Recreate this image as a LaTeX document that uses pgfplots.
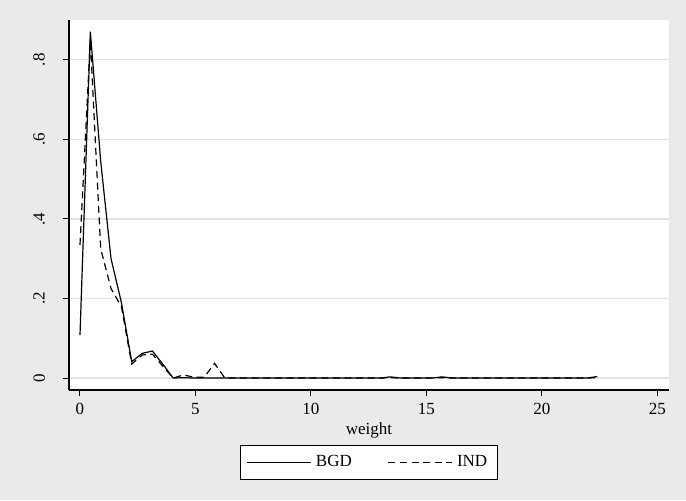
\documentclass[border=0pt]{standalone}
\usepackage{fontspec}
\setmainfont{Liberation Serif}
\usepackage{pgfplots}
\usepackage{pgfplotstable}
\pgfplotsset{compat=1.18}
\usetikzlibrary{backgrounds}
\definecolor{bgc}{RGB}{234,234,234}
\definecolor{gridc}{RGB}{226,226,226}

% frequency polygon, bins of width 0.448
\pgfplotstableread{
x      bgd    ind
0      0.108  0.335
0.448  0.871  0.850
0.896  0.545  0.325
1.344  0.300  0.225
1.792  0.190  0.180
2.240  0.041  0.035
2.688  0.062  0.058
3.136  0.068  0.060
3.584  0.035  0.030
4.032  0.000  0.000
4.480  0.001  0.008
4.928  0.000  0.002
5.376  0.000  0.002
5.824  0.000  0.037
6.272  0.000  0.000
6.720  0.000  0.000
7.168  0.000  0.000
7.616  0.000  0.000
8.064  0.000  0.000
8.512  0.000  0.000
8.960  0.000  0.000
9.408  0.000  0.000
9.856  0.000  0.000
10.304 0.000  0.000
10.752 0.000  0.000
11.200 0.000  0.000
11.648 0.000  0.000
12.096 0.000  0.000
12.544 0.000  0.000
12.992 0.000  0.000
13.440 0.003  0.001
13.888 0.000  0.000
14.336 0.000  0.000
14.784 0.000  0.000
15.232 0.000  0.000
15.680 0.003  0.001
16.128 0.000  0.000
16.576 0.000  0.000
17.024 0.000  0.000
17.472 0.000  0.000
17.920 0.000  0.000
18.368 0.000  0.000
18.816 0.000  0.000
19.264 0.000  0.000
19.712 0.000  0.000
20.160 0.000  0.000
20.608 0.000  0.000
21.056 0.000  0.000
21.504 0.000  0.000
21.952 0.000  0.000
22.400 0.004  0.001
}\dens

\begin{document}
\begin{tikzpicture}
\begin{axis}[
    name=ax,
    scale only axis,
    width=300pt, height=185pt,
    xmin=-0.476, xmax=25.5,
    ymin=-0.030, ymax=0.90,
    axis x line*=bottom, axis y line*=left,
    axis line style={black, line width=0.6pt, -},
    axis background/.style={fill=white},
    font=\fontsize{8.5}{10}\selectfont,
    /pgf/number format/assume math mode=true,
    xtick={0,5,10,15,20,25},
    ytick={0,0.2,0.4,0.6,0.8},
    yticklabels={0,.2,.4,.6,.8},
    tick align=outside,
    major tick length=3pt,
    tick style={black, line width=0.5pt},
    yticklabel style={rotate=90, anchor=south, yshift=5.5pt},
    ymajorgrids,
    major grid style={gridc, line width=0.6pt},
    xlabel={weight},
    xlabel style={yshift=3pt},
    legend columns=2,
    legend style={at={(0.5,-0.1486)}, anchor=north, draw=black, fill=white,
                  line width=0.5pt, font=\fontsize{8.5}{10}\selectfont,
                  inner xsep=3pt, inner ysep=3pt,
                  /tikz/every even column/.append style={column sep=16pt}},
    legend image code/.code={\draw[#1] (0pt,0pt) -- (32pt,0pt);},
]
\addplot[black, line width=0.6pt] table[x=x, y=bgd] {\dens};
\addplot[black, line width=0.6pt, dash pattern=on 3.5pt off 2.3pt] table[x=x, y=ind] {\dens};
\legend{BGD, IND}
\end{axis}
\begin{scope}[on background layer]
\fill[bgc] ([shift={(-34.5pt,-55pt)}]ax.south west) rectangle ([shift={(308.5pt,195pt)}]ax.south west);
\end{scope}
\end{tikzpicture}
\end{document}
